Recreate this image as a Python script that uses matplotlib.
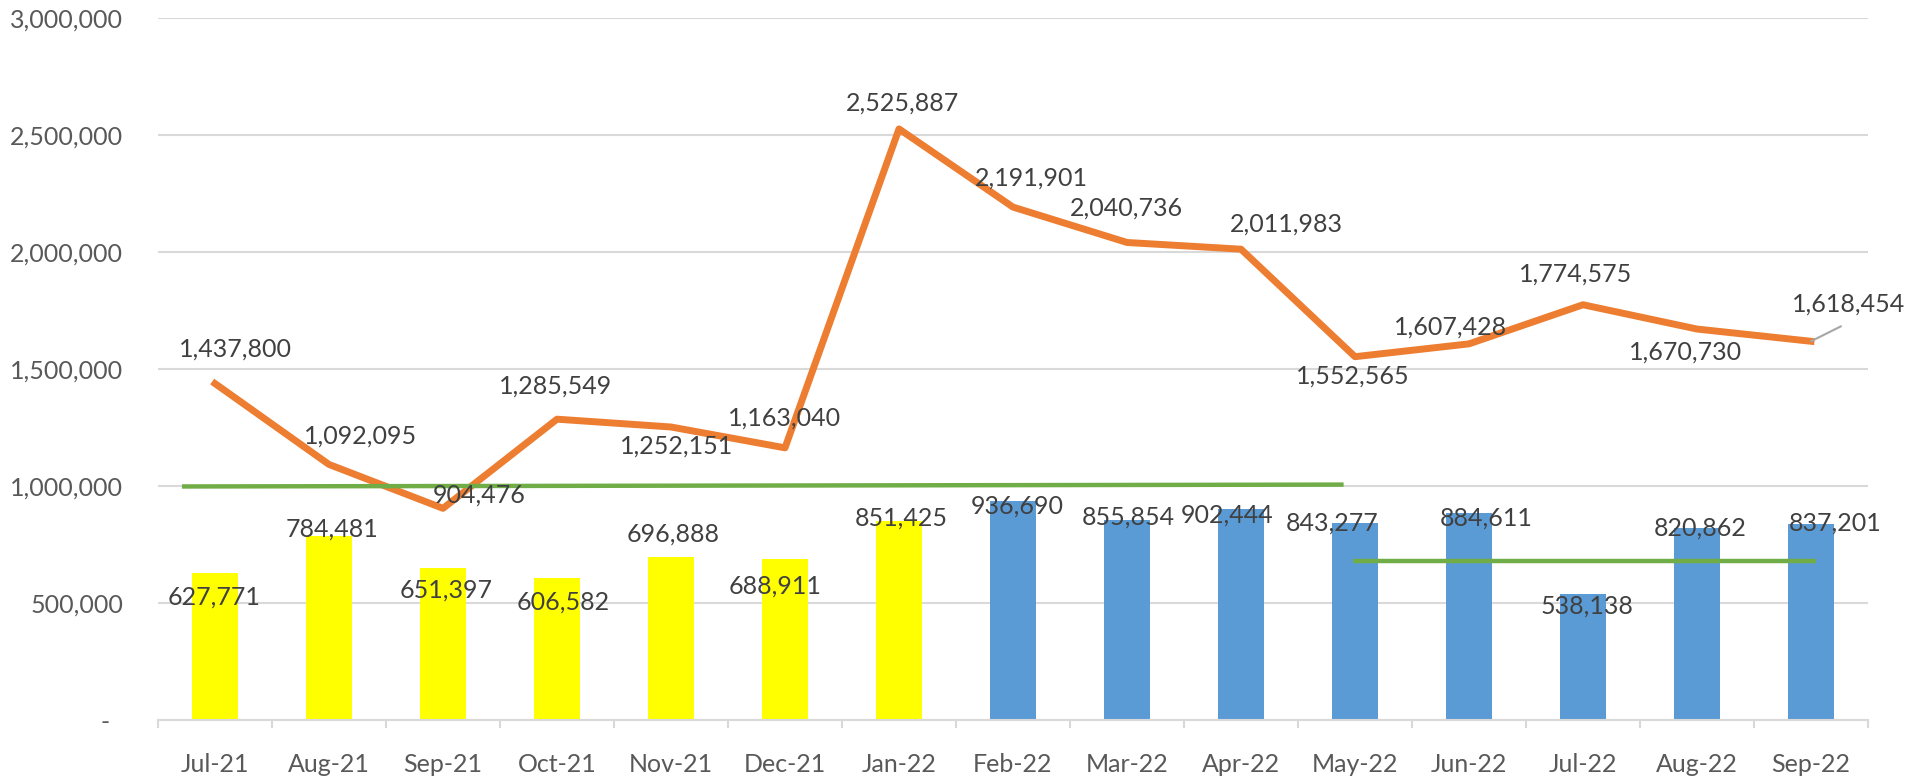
import matplotlib
matplotlib.use("Agg")
import matplotlib.pyplot as plt
from matplotlib.ticker import FuncFormatter, FixedLocator

# ---------------- data ----------------
months = ["Jul-21", "Aug-21", "Sep-21", "Oct-21", "Nov-21", "Dec-21", "Jan-22",
          "Feb-22", "Mar-22", "Apr-22", "May-22", "Jun-22", "Jul-22", "Aug-22", "Sep-22"]
bar_values = [627771, 784481, 651397, 606582, 696888, 688911, 851425,
              936690, 855854, 902444, 843277, 884611, 538138, 820862, 837201]
line_values = [1437800, 1092095, 904476, 1285549, 1252151, 1163040, 2525887,
               2191901, 2040736, 2011983, 1552565, 1607428, 1774575, 1670730, 1618454]
# average / trend lines (category position, value)
avg1_x = [-0.29, 9.9]
avg1_y = [998000, 1006000]
avg2_x = [9.98, 14.04]
avg2_y = [678000, 678000]
yticks = [0, 500000, 1000000, 1500000, 2000000, 2500000, 3000000]

# ---------------- styling / layout ----------------
YELLOW = "#FFFF00"
BLUE = "#5B9BD5"
ORANGE = "#ED7D31"
GREEN = "#70AD47"
GRID = "#D9D9D9"
LABEL = "#404040"
TICK = "#595959"
FONT = ["Lato", "DejaVu Sans"]
FS = 18

bar_colors = [YELLOW] * 7 + [BLUE] * 8

# label offsets in pixels (dx, dy)
line_label_off = [(20, 34), (32, 28), (36, 13), (-1, 33), (6, -19), (0, 30), (4, 26),
                  (18, 29), (-1, 34), (45, 25), (-2, -19), (-18, 17), (-7, 31), (-11, -23), (38, 37)]
bar_label_off = [(-1, -24), (3, 7), (3, -23), (6, -24), (2, 23), (-10, -27), (2, 3),
                 (4, -5), (1, 3), (-14, -6), (-23, 0), (17, -5), (4, -12), (3, 0), (24, 1)]
leader_end = (30, 15)

plt.rcParams["font.family"] = FONT

fig = plt.figure(figsize=(19.21, 7.76), dpi=100)
ax = fig.add_axes([158 / 1921, 1 - 720 / 776, (1868 - 158) / 1921, (720 - 18) / 776])

x = list(range(len(months)))

ax.bar(x, bar_values, width=0.4, color=bar_colors, zorder=2)
ax.plot(x, line_values, color=ORANGE, lw=5, solid_joinstyle="round", zorder=3)
ax.plot(avg1_x, avg1_y, color=GREEN, lw=3.2, zorder=4, solid_capstyle="butt")
ax.plot(avg2_x, avg2_y, color=GREEN, lw=3.2, zorder=4, solid_capstyle="butt")

ax.set_xlim(-0.5, len(months) - 0.5)
ax.set_ylim(0, 3000000)

ax.yaxis.set_major_locator(FixedLocator(yticks))
ax.yaxis.set_major_formatter(FuncFormatter(lambda v, p: "-  " if v == 0 else f"{int(v):,}"))
ax.tick_params(axis="y", length=0, pad=25, labelsize=FS, labelcolor=TICK)
ax.grid(axis="y", color=GRID, lw=1.5, zorder=0)
ax.set_axisbelow(True)

ax.set_xticks(x)
ax.set_xticklabels(months)
ax.set_xticks([i - 0.5 for i in range(len(months) + 1)], minor=True)
ax.tick_params(axis="x", which="major", length=0, pad=24, labelsize=FS, labelcolor=TICK)
ax.tick_params(axis="x", which="minor", length=6, width=1.5, color=GRID)

for s in ["top", "right", "left"]:
    ax.spines[s].set_visible(False)
ax.spines["bottom"].set_color(GRID)
ax.spines["bottom"].set_linewidth(1.5)

# data labels
for i, v in enumerate(line_values):
    dx, dy = line_label_off[i]
    ax.annotate(f"{v:,}", (i, v), xytext=(dx, dy), textcoords="offset pixels",
                ha="center", va="center", fontsize=FS, color=LABEL, zorder=6)

# leader line for the last line label
last = len(line_values) - 1
ax.annotate("", (last, line_values[last]), xytext=leader_end, textcoords="offset pixels",
            arrowprops=dict(arrowstyle="-", color="#A6A6A6", lw=1.5, shrinkA=0, shrinkB=0),
            zorder=5)

for i, v in enumerate(bar_values):
    dx, dy = bar_label_off[i]
    ax.annotate(f"{v:,}", (i, v), xytext=(dx, dy), textcoords="offset pixels",
                ha="center", va="center", fontsize=FS, color=LABEL, zorder=6)

fig.savefig("out.png", dpi=100, facecolor="white")
